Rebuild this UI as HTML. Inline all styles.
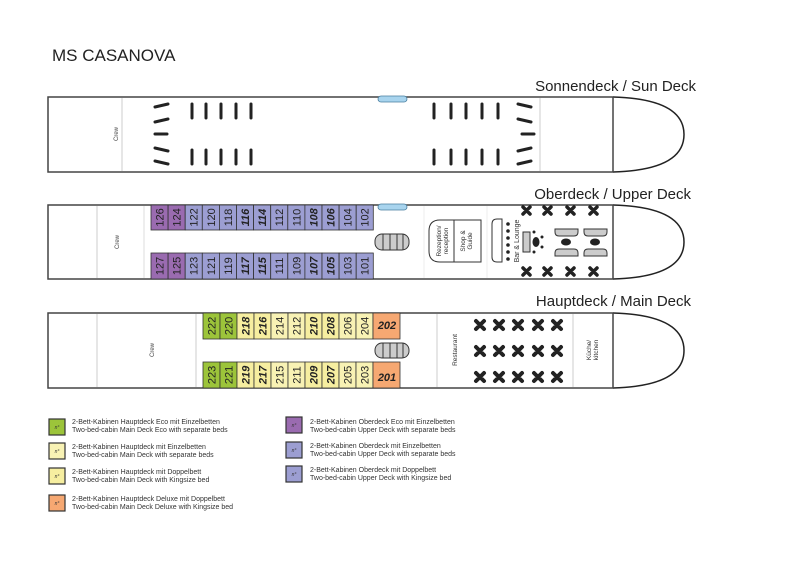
<!DOCTYPE html>
<html><head><meta charset="utf-8"><style>
body{margin:0;background:#fff;}
svg{display:block;font-family:"Liberation Sans",sans-serif;}
</style></head><body>
<svg width="800" height="563" viewBox="0 0 800 563" xmlns="http://www.w3.org/2000/svg">
<rect width="800" height="563" fill="#fff"/>
<text x="52" y="61" font-size="17" fill="#222">MS CASANOVA</text>

<!-- SUN DECK -->
<text x="696" y="91" font-size="15" text-anchor="end" fill="#222">Sonnendeck / Sun Deck</text>
<path d="M613 97 Q684 99 684 134.5 Q684 170 613 172" fill="none" stroke="#222" stroke-width="1.5"/>
<rect x="48" y="97" width="565" height="75" fill="none" stroke="#444" stroke-width="1.5"/>
<line x1="122" y1="98" x2="122" y2="171" stroke="#ccc"/>
<line x1="540" y1="98" x2="540" y2="171" stroke="#ccc"/>
<text transform="translate(118,134) rotate(-90)" font-size="6" text-anchor="middle" fill="#444">Crew</text>
<rect x="378" y="96" width="29" height="6" rx="3" fill="#a8d4ee" stroke="#4a7fa0" stroke-width="0.8"/>
<g stroke="#222" stroke-width="3" stroke-linecap="round">
<line x1="192" y1="104" x2="192" y2="118"/><line x1="206" y1="104" x2="206" y2="118"/><line x1="221" y1="104" x2="221" y2="118"/><line x1="236" y1="104" x2="236" y2="118"/><line x1="251" y1="104" x2="251" y2="118"/>
<line x1="192" y1="150" x2="192" y2="164"/><line x1="206" y1="150" x2="206" y2="164"/><line x1="221" y1="150" x2="221" y2="164"/><line x1="236" y1="150" x2="236" y2="164"/><line x1="251" y1="150" x2="251" y2="164"/>
<line x1="434" y1="104" x2="434" y2="118"/><line x1="451" y1="104" x2="451" y2="118"/><line x1="466" y1="104" x2="466" y2="118"/><line x1="482" y1="104" x2="482" y2="118"/><line x1="498" y1="104" x2="498" y2="118"/>
<line x1="434" y1="150" x2="434" y2="164"/><line x1="451" y1="150" x2="451" y2="164"/><line x1="466" y1="150" x2="466" y2="164"/><line x1="482" y1="150" x2="482" y2="164"/><line x1="498" y1="150" x2="498" y2="164"/>
</g>
<g stroke="#222" stroke-width="3" stroke-linecap="round">
<line x1="155" y1="107" x2="168" y2="104"/>
<line x1="155" y1="122" x2="168" y2="119"/>
<line x1="155" y1="134" x2="167" y2="134"/>
<line x1="155" y1="148" x2="168" y2="151"/>
<line x1="155" y1="161" x2="168" y2="164"/>
<line x1="518" y1="104" x2="531" y2="107"/>
<line x1="518" y1="119" x2="531" y2="122"/>
<line x1="522" y1="134" x2="534" y2="134"/>
<line x1="518" y1="151" x2="531" y2="148"/>
<line x1="518" y1="164" x2="531" y2="161"/>
</g>

<!-- UPPER DECK -->
<text x="691" y="199" font-size="15" text-anchor="end" fill="#222">Oberdeck / Upper Deck</text>
<path d="M613 205 Q684 207 684 242 Q684 277 613 279" fill="none" stroke="#222" stroke-width="1.5"/>
<rect x="48" y="205" width="565" height="74" fill="none" stroke="#444" stroke-width="1.5"/>
<line x1="97" y1="206" x2="97" y2="278" stroke="#ccc"/>
<line x1="144" y1="206" x2="144" y2="278" stroke="#ddd"/>
<text transform="translate(119,242) rotate(-90)" font-size="6" text-anchor="middle" fill="#444">Crew</text>
<rect x="378" y="204" width="29" height="6" rx="3" fill="#a8d4ee" stroke="#4a7fa0" stroke-width="0.8"/>
<g stroke="#333" stroke-width="0.8">
<rect x="151" y="205" width="17.1" height="25" fill="#9a6bb0"/><rect x="168.1" y="205" width="17.1" height="25" fill="#9a6bb0"/>
<rect x="185.2" y="205" width="17.1" height="25" fill="#9c9ed2"/><rect x="202.3" y="205" width="17.1" height="25" fill="#9c9ed2"/><rect x="219.4" y="205" width="17.1" height="25" fill="#9c9ed2"/><rect x="236.5" y="205" width="17.1" height="25" fill="#9c9ed2"/><rect x="253.6" y="205" width="17.1" height="25" fill="#9c9ed2"/><rect x="270.7" y="205" width="17.1" height="25" fill="#9c9ed2"/><rect x="287.8" y="205" width="17.1" height="25" fill="#9c9ed2"/><rect x="304.9" y="205" width="17.1" height="25" fill="#9c9ed2"/><rect x="322" y="205" width="17.1" height="25" fill="#9c9ed2"/><rect x="339.1" y="205" width="17.1" height="25" fill="#9c9ed2"/><rect x="356.2" y="205" width="17.1" height="25" fill="#9c9ed2"/>
<rect x="151" y="253" width="17.1" height="26" fill="#9a6bb0"/><rect x="168.1" y="253" width="17.1" height="26" fill="#9a6bb0"/>
<rect x="185.2" y="253" width="17.1" height="26" fill="#9c9ed2"/><rect x="202.3" y="253" width="17.1" height="26" fill="#9c9ed2"/><rect x="219.4" y="253" width="17.1" height="26" fill="#9c9ed2"/><rect x="236.5" y="253" width="17.1" height="26" fill="#9c9ed2"/><rect x="253.6" y="253" width="17.1" height="26" fill="#9c9ed2"/><rect x="270.7" y="253" width="17.1" height="26" fill="#9c9ed2"/><rect x="287.8" y="253" width="17.1" height="26" fill="#9c9ed2"/><rect x="304.9" y="253" width="17.1" height="26" fill="#9c9ed2"/><rect x="322" y="253" width="17.1" height="26" fill="#9c9ed2"/><rect x="339.1" y="253" width="17.1" height="26" fill="#9c9ed2"/><rect x="356.2" y="253" width="17.1" height="26" fill="#9c9ed2"/>
</g>
<g font-size="11" fill="#222" text-anchor="middle">
<text transform="translate(163.5,217.5) rotate(-90)">126</text>
<text transform="translate(180.6,217.5) rotate(-90)">124</text>
<text transform="translate(197.7,217.5) rotate(-90)">122</text>
<text transform="translate(214.8,217.5) rotate(-90)">120</text>
<text transform="translate(231.9,217.5) rotate(-90)">118</text>
<text transform="translate(249,217.5) rotate(-90)" font-weight="bold" font-style="italic">116</text>
<text transform="translate(266.1,217.5) rotate(-90)" font-weight="bold" font-style="italic">114</text>
<text transform="translate(283.2,217.5) rotate(-90)">112</text>
<text transform="translate(300.3,217.5) rotate(-90)">110</text>
<text transform="translate(317.4,217.5) rotate(-90)" font-weight="bold" font-style="italic">108</text>
<text transform="translate(334.5,217.5) rotate(-90)" font-weight="bold" font-style="italic">106</text>
<text transform="translate(351.6,217.5) rotate(-90)">104</text>
<text transform="translate(368.7,217.5) rotate(-90)">102</text>
<text transform="translate(163.5,266) rotate(-90)">127</text>
<text transform="translate(180.6,266) rotate(-90)">125</text>
<text transform="translate(197.7,266) rotate(-90)">123</text>
<text transform="translate(214.8,266) rotate(-90)">121</text>
<text transform="translate(231.9,266) rotate(-90)">119</text>
<text transform="translate(249,266) rotate(-90)" font-weight="bold" font-style="italic">117</text>
<text transform="translate(266.1,266) rotate(-90)" font-weight="bold" font-style="italic">115</text>
<text transform="translate(283.2,266) rotate(-90)">111</text>
<text transform="translate(300.3,266) rotate(-90)">109</text>
<text transform="translate(317.4,266) rotate(-90)" font-weight="bold" font-style="italic">107</text>
<text transform="translate(334.5,266) rotate(-90)" font-weight="bold" font-style="italic">105</text>
<text transform="translate(351.6,266) rotate(-90)">103</text>
<text transform="translate(368.7,266) rotate(-90)">101</text>
</g>
<!-- stairs -->
<rect x="375" y="234" width="34" height="16" rx="7" fill="#ccc" stroke="#333"/>
<g stroke="#333"><line x1="383" y1="234" x2="383" y2="250"/><line x1="390" y1="234" x2="390" y2="250"/><line x1="397" y1="234" x2="397" y2="250"/><line x1="403" y1="234" x2="403" y2="250"/></g>
<line x1="424" y1="206" x2="424" y2="278" stroke="#eee"/>
<line x1="487" y1="206" x2="487" y2="278" stroke="#eee"/>
<path d="M440 220 H481 V262 H440 Q429 262 429 251 V231 Q429 220 440 220 Z" fill="#fff" stroke="#333"/>
<line x1="454" y1="220" x2="454" y2="262" stroke="#333"/>
<text transform="translate(441,241) rotate(-90)" font-size="6.5" text-anchor="middle" fill="#333">Rezeption/</text>
<text transform="translate(448,241) rotate(-90)" font-size="6.5" text-anchor="middle" fill="#333">reception</text>
<text transform="translate(465,241) rotate(-90)" font-size="6.5" text-anchor="middle" fill="#333">Shop &amp;</text>
<text transform="translate(472,241) rotate(-90)" font-size="6.5" text-anchor="middle" fill="#333">Guide</text>
<path d="M492 224 Q492 219 497 219 H502 V262 H497 Q492 262 492 257 Z" fill="#fff" stroke="#333"/>
<g fill="#222"><circle cx="508" cy="224" r="1.8"/><circle cx="508" cy="231" r="1.8"/><circle cx="508" cy="238" r="1.8"/><circle cx="508" cy="245" r="1.8"/><circle cx="508" cy="252" r="1.8"/><circle cx="508" cy="259" r="1.8"/></g>
<text transform="translate(519,241) rotate(-90)" font-size="7" text-anchor="middle" fill="#333">Bar &amp; Lounge</text>
<rect x="523" y="232" width="7" height="20" fill="#ccc" stroke="#333"/>
<ellipse cx="536" cy="242" rx="3.5" ry="5" fill="#222"/>
<g fill="#222"><circle cx="534" cy="232" r="1.5"/><circle cx="534" cy="252" r="1.5"/><circle cx="542" cy="237" r="1.5"/><circle cx="542" cy="247" r="1.5"/></g>
<g fill="#ccc" stroke="#333">
<path d="M555 229 H578 V232 Q578 236 574 236 H559 Q555 236 555 232 Z"/>
<path d="M555 256 H578 V253 Q578 249 574 249 H559 Q555 249 555 253 Z"/>
<path d="M584 229 H607 V232 Q607 236 603 236 H588 Q584 236 584 232 Z"/>
<path d="M584 256 H607 V253 Q607 249 603 249 H588 Q584 249 584 253 Z"/>
</g>
<ellipse cx="566" cy="242" rx="5" ry="3.5" fill="#222"/><ellipse cx="595" cy="242" rx="5" ry="3.5" fill="#222"/>
<g stroke="#222" stroke-width="3.5" stroke-linecap="round">
<path d="M523 207 l7 7 M530 207 l-7 7 M544 207 l7 7 M551 207 l-7 7 M567 207 l7 7 M574 207 l-7 7 M590 207 l7 7 M597 207 l-7 7"/>
<path d="M523 268 l7 7 M530 268 l-7 7 M544 268 l7 7 M551 268 l-7 7 M567 268 l7 7 M574 268 l-7 7 M590 268 l7 7 M597 268 l-7 7"/>
</g>

<!-- MAIN DECK -->
<text x="691" y="306" font-size="15" text-anchor="end" fill="#222">Hauptdeck / Main Deck</text>
<path d="M613 313 Q684 315 684 350.5 Q684 386 613 388" fill="none" stroke="#222" stroke-width="1.5"/>
<rect x="48" y="313" width="565" height="75" fill="none" stroke="#444" stroke-width="1.5"/>
<line x1="97" y1="314" x2="97" y2="387" stroke="#ccc"/>
<line x1="196" y1="314" x2="196" y2="387" stroke="#ccc"/>
<line x1="437" y1="314" x2="437" y2="387" stroke="#ccc"/>
<line x1="573" y1="314" x2="573" y2="387" stroke="#ccc"/>
<text transform="translate(154,350) rotate(-90)" font-size="6" text-anchor="middle" fill="#444">Crew</text>
<g stroke="#333" stroke-width="0.8">
<rect x="203" y="313" width="17" height="26" fill="#9cc43a"/><rect x="220" y="313" width="17" height="26" fill="#9cc43a"/>
<rect x="237" y="313" width="17" height="26" fill="#f6eea0"/><rect x="254" y="313" width="17" height="26" fill="#f6eea0"/><rect x="271" y="313" width="17" height="26" fill="#f8f2b4"/><rect x="288" y="313" width="17" height="26" fill="#f8f2b4"/><rect x="305" y="313" width="17" height="26" fill="#f6eea0"/><rect x="322" y="313" width="17" height="26" fill="#f6eea0"/><rect x="339" y="313" width="17" height="26" fill="#f8f2b4"/><rect x="356" y="313" width="17" height="26" fill="#f8f2b4"/>
<rect x="373" y="313" width="27" height="26" fill="#f6a872"/>
<rect x="203" y="362" width="17" height="26" fill="#9cc43a"/><rect x="220" y="362" width="17" height="26" fill="#9cc43a"/>
<rect x="237" y="362" width="17" height="26" fill="#f6eea0"/><rect x="254" y="362" width="17" height="26" fill="#f6eea0"/><rect x="271" y="362" width="17" height="26" fill="#f8f2b4"/><rect x="288" y="362" width="17" height="26" fill="#f8f2b4"/><rect x="305" y="362" width="17" height="26" fill="#f6eea0"/><rect x="322" y="362" width="17" height="26" fill="#f6eea0"/><rect x="339" y="362" width="17" height="26" fill="#f8f2b4"/><rect x="356" y="362" width="17" height="26" fill="#f8f2b4"/>
<rect x="373" y="362" width="27" height="26" fill="#f6a872"/>
</g>
<g font-size="11" fill="#222" text-anchor="middle">
<text transform="translate(215.5,326) rotate(-90)">222</text>
<text transform="translate(232.5,326) rotate(-90)">220</text>
<text transform="translate(249.5,326) rotate(-90)" font-weight="bold" font-style="italic">218</text>
<text transform="translate(266.5,326) rotate(-90)" font-weight="bold" font-style="italic">216</text>
<text transform="translate(283.5,326) rotate(-90)">214</text>
<text transform="translate(300.5,326) rotate(-90)">212</text>
<text transform="translate(317.5,326) rotate(-90)" font-weight="bold" font-style="italic">210</text>
<text transform="translate(334.5,326) rotate(-90)" font-weight="bold" font-style="italic">208</text>
<text transform="translate(351.5,326) rotate(-90)">206</text>
<text transform="translate(368.5,326) rotate(-90)">204</text>
<text transform="translate(215.5,375) rotate(-90)">223</text>
<text transform="translate(232.5,375) rotate(-90)">221</text>
<text transform="translate(249.5,375) rotate(-90)" font-weight="bold" font-style="italic">219</text>
<text transform="translate(266.5,375) rotate(-90)" font-weight="bold" font-style="italic">217</text>
<text transform="translate(283.5,375) rotate(-90)">215</text>
<text transform="translate(300.5,375) rotate(-90)">211</text>
<text transform="translate(317.5,375) rotate(-90)" font-weight="bold" font-style="italic">209</text>
<text transform="translate(334.5,375) rotate(-90)" font-weight="bold" font-style="italic">207</text>
<text transform="translate(351.5,375) rotate(-90)">205</text>
<text transform="translate(368.5,375) rotate(-90)">203</text>
<text x="387" y="329" font-weight="bold" font-style="italic">202</text>
<text x="387" y="381" font-weight="bold" font-style="italic">201</text>
</g>
<rect x="375" y="343" width="34" height="15" rx="7" fill="#ccc" stroke="#333"/>
<g stroke="#333"><line x1="383" y1="343" x2="383" y2="358"/><line x1="390" y1="343" x2="390" y2="358"/><line x1="397" y1="343" x2="397" y2="358"/><line x1="403" y1="343" x2="403" y2="358"/></g>
<text transform="translate(457,350) rotate(-90)" font-size="6.5" text-anchor="middle" fill="#333">Restaurant</text>
<text transform="translate(591,350) rotate(-90)" font-size="6.5" text-anchor="middle" fill="#333">Küche/</text>
<text transform="translate(598,350) rotate(-90)" font-size="6.5" text-anchor="middle" fill="#333">kitchen</text>
<g stroke="#222" stroke-width="4" stroke-linecap="round">
<path d="M476 321 l8 8 M484 321 l-8 8 M495 321 l8 8 M503 321 l-8 8 M514 321 l8 8 M522 321 l-8 8 M534 321 l8 8 M542 321 l-8 8 M553 321 l8 8 M561 321 l-8 8"/>
<path d="M476 347 l8 8 M484 347 l-8 8 M495 347 l8 8 M503 347 l-8 8 M514 347 l8 8 M522 347 l-8 8 M534 347 l8 8 M542 347 l-8 8 M553 347 l8 8 M561 347 l-8 8"/>
<path d="M476 373 l8 8 M484 373 l-8 8 M495 373 l8 8 M503 373 l-8 8 M514 373 l8 8 M522 373 l-8 8 M534 373 l8 8 M542 373 l-8 8 M553 373 l8 8 M561 373 l-8 8"/>
</g>

<!-- LEGEND -->
<g stroke="#333" stroke-width="1.2">
<rect x="49" y="419" width="16" height="16" fill="#9cc43a"/>
<rect x="49" y="443" width="16" height="16" fill="#f8f2b4"/>
<rect x="49" y="468" width="16" height="16" fill="#f6eea0"/>
<rect x="49" y="495" width="16" height="16" fill="#f6a872"/>
<rect x="286" y="417" width="16" height="16" fill="#9a6bb0"/>
<rect x="286" y="442" width="16" height="16" fill="#9c9ed2"/>
<rect x="286" y="466" width="16" height="16" fill="#9c9ed2"/>
</g>
<g font-size="5" fill="#333" text-anchor="middle" font-style="italic">
<text x="57" y="429">n°</text><text x="57" y="453">n°</text><text x="57" y="478">n°</text><text x="57" y="505">n°</text>
<text x="294" y="427">n°</text><text x="294" y="452">n°</text><text x="294" y="476">n°</text>
</g>
<g font-size="7" fill="#333">
<text x="72" y="424">2-Bett-Kabinen Hauptdeck Eco mit Einzelbetten</text>
<text x="72" y="432">Two-bed-cabin Main Deck Eco with separate beds</text>
<text x="72" y="449">2-Bett-Kabinen Hauptdeck mit Einzelbetten</text>
<text x="72" y="457">Two-bed-cabin Main Deck with separate beds</text>
<text x="72" y="474">2-Bett-Kabinen Hauptdeck mit Doppelbett</text>
<text x="72" y="482">Two-bed-cabin Main Deck with Kingsize bed</text>
<text x="72" y="501">2-Bett-Kabinen Hauptdeck Deluxe mit Doppelbett</text>
<text x="72" y="509">Two-bed-cabin Main Deck Deluxe with Kingsize bed</text>
<text x="310" y="424">2-Bett-Kabinen Oberdeck Eco mit Einzelbetten</text>
<text x="310" y="432">Two-bed-cabin Upper Deck with separate beds</text>
<text x="310" y="448">2-Bett-Kabinen Oberdeck mit Einzelbetten</text>
<text x="310" y="456">Two-bed-cabin Upper Deck with separate beds</text>
<text x="310" y="472">2-Bett-Kabinen Oberdeck mit Doppelbett</text>
<text x="310" y="480">Two-bed-cabin Upper Deck with Kingsize bed</text>
</g>
</svg>
</body></html>
